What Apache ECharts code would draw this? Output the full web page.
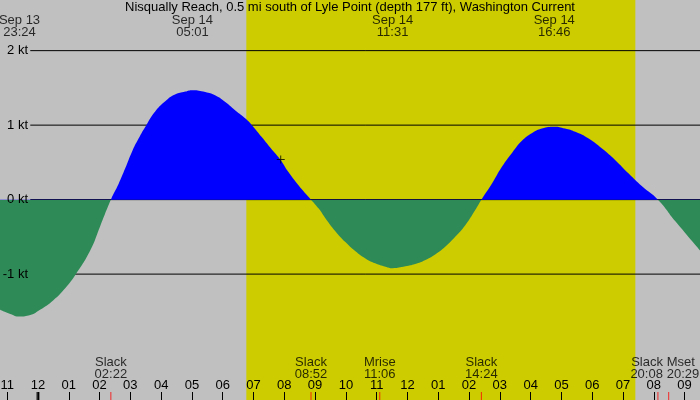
<!DOCTYPE html>
<html>
<head>
<meta charset="utf-8">
<script src="https://cdn.jsdelivr.net/npm/echarts@6/dist/echarts.min.js"></script>
<style>
  html, body { margin: 0; padding: 0; background: #c0c0c0; }
  #chart { width: 700px; height: 400px; }
</style>
</head>
<body>
<div id="chart"></div>
<script>
var titleText = 'Nisqually Reach, 0.5 mi south of Lyle Point (depth 177 ft), Washington Current'

// times are "day hh:mm" in September
var axisStart = '13 22:46'
var axisEnd = '14 21:30'
var lineStart = '13 23:45'
var ktTicks = [2, 1, 0, -1]
var firstHour = '13 23:00'
var hourLabels = ['11', '12', '01', '02', '03', '04', '05', '06', '07', '08', '09', '10',
  '11', '12', '01', '02', '03', '04', '05', '06', '07', '08', '09']
var midnight = '14 00:00'
var sunrise = '14 06:46'
var sunset = '14 19:24'

// current speed (kt, + flood / - ebb)
var curveTimes = [
  '13 22:46', '13 23:06', '13 23:24', '13 23:45', '14 00:04', '14 00:30', '14 00:53', '14 01:14',
  '14 01:42', '14 02:01', '14 02:22', '14 02:37', '14 02:50', '14 03:03', '14 03:16', '14 03:31',
  '14 03:48', '14 04:08', '14 04:27', '14 04:47', '14 05:01', '14 05:26', '14 05:45', '14 06:05',
  '14 06:24', '14 06:46', '14 06:57', '14 07:16', '14 07:36', '14 07:52', '14 08:08', '14 08:28',
  '14 08:52', '14 09:07', '14 09:20', '14 09:39', '14 09:59', '14 10:18', '14 10:38', '14 10:57',
  '14 11:17', '14 11:31', '14 11:56', '14 12:15', '14 12:35', '14 12:54', '14 13:14', '14 13:33',
  '14 13:53', '14 14:12', '14 14:24', '14 14:45', '14 15:04', '14 15:24', '14 15:43', '14 16:03',
  '14 16:22', '14 16:46', '14 17:07', '14 17:27', '14 17:53', '14 18:19', '14 18:45', '14 19:11',
  '14 19:37', '14 20:08', '14 20:42', '14 21:30']
var curveSpeeds = [
  -1.48, -1.535, -1.57, -1.55, -1.48, -1.35, -1.19, -1.00,
  -0.68, -0.36, 0, 0.21, 0.42, 0.64, 0.82, 1.00,
  1.18, 1.32, 1.41, 1.45, 1.47, 1.445, 1.40, 1.31,
  1.20, 1.08, 1.00, 0.84, 0.67, 0.54, 0.37, 0.19,
  0, -0.12, -0.25, -0.42, -0.57, -0.69, -0.79, -0.855,
  -0.90, -0.92, -0.895, -0.865, -0.81, -0.735, -0.63, -0.50,
  -0.34, -0.14, 0, 0.22, 0.44, 0.63, 0.79, 0.895,
  0.955, 0.98, 0.955, 0.91, 0.82, 0.686, 0.53, 0.35,
  0.18, 0, -0.29, -0.68]

var extremaTimes = ['13 23:24', '14 05:01', '14 11:31', '14 16:46']
var eventNames = ['Slack', 'Slack', 'Mrise', 'Slack', 'Slack', 'Mset']
var eventTimes = ['14 02:22', '14 08:52', '14 11:06', '14 14:24', '14 20:08', '14 20:29']
var nowTime = '14 07:53'
var nowSpeed = 0.54

// crowded labels at the right end get pushed apart
var eventLabelShift = { 4: ['right', 5], 5: ['left', -2] }

var yMin = -2.69
var yMax = 2.68
var chartHeight = 400
var floodColor = '#0000ff'
var ebbColor = '#2e8b57'

function toHours(s) {
  var parts = s.split(' ')
  var hm = parts[1].split(':')
  return (Number(parts[0]) - 13) * 24 + Number(hm[0]) + Number(hm[1]) / 60
}

function clock(s) {
  return s.split(' ')[1]
}

var hourValues = hourLabels.map(function (l, i) { return toHours(firstHour) + i })

var curveData = curveTimes.map(function (t, i) { return [toHours(t), curveSpeeds[i]] })

// blue above the zero line, green below it
var zeroAt = yMax / (yMax - yMin)
var fillColor = {
  type: 'linear', x: 0, y: 0, x2: 0, y2: chartHeight, global: true,
  colorStops: [
    { offset: 0, color: floodColor },
    { offset: zeroAt, color: floodColor },
    { offset: zeroAt, color: ebbColor },
    { offset: 1, color: ebbColor }
  ]
}

var gridLineSeries = ktTicks.map(function (v) {
  return {
    type: 'line',
    z: 1.5,
    silent: true,
    symbol: 'none',
    lineStyle: { color: '#000', width: 1 },
    data: [[toHours(lineStart), v], [toHours(axisEnd), v]]
  }
})

var eventData = eventTimes.map(function (t, i) {
  var item = { value: [toHours(t), yMin], name: eventNames[i], time: clock(t) }
  var shift = eventLabelShift[i]
  if (shift) {
    item.label = { align: shift[0], offset: [shift[1], 0] }
  }
  return item
})

var extremaData = extremaTimes.map(function (t) {
  return { value: [toHours(t), yMax], time: clock(t), day: 'Sep ' + t.split(' ')[0] }
})

var chart = echarts.init(document.getElementById('chart'))
chart.setOption({
  animation: false,
  backgroundColor: '#c0c0c0',
  textStyle: { fontFamily: 'Liberation Sans', fontSize: 13, color: '#000' },
  title: {
    text: titleText,
    left: 'center',
    top: 1,
    padding: 0,
    textStyle: { fontFamily: 'Liberation Sans', fontSize: 13, fontWeight: 'normal', color: '#000' }
  },
  grid: { left: 0, right: 0, top: 0, bottom: 0, outerBoundsMode: 'none' },
  xAxis: {
    type: 'value',
    z: 5,
    min: toHours(axisStart),
    max: toHours(axisEnd),
    axisLine: { show: false, onZero: false },
    splitLine: { show: false },
    axisTick: {
      show: true,
      inside: true,
      length: 8,
      customValues: hourValues,
      lineStyle: { color: '#000', width: 1 }
    },
    axisLabel: {
      inside: true,
      margin: 8,
      color: '#000',
      fontSize: 13,
      customValues: hourValues,
      formatter: function (v) {
        return hourLabels[Math.round(v - toHours(firstHour))]
      }
    }
  },
  yAxis: {
    type: 'value',
    z: 5,
    min: yMin,
    max: yMax,
    axisLine: { show: false, onZero: false },
    axisTick: { show: false },
    splitLine: { show: false },
    axisLabel: {
      inside: true,
      align: 'right',
      margin: 28,
      color: '#000',
      fontSize: 13,
      customValues: ktTicks,
      formatter: '{value} kt'
    }
  },
  series: [
    {
      type: 'line',
      z: 2,
      data: curveData,
      smooth: 0.5,
      symbol: 'none',
      silent: true,
      lineStyle: { width: 0 },
      areaStyle: { opacity: 1, color: fillColor },
      markArea: {
        silent: true,
        itemStyle: { color: '#cccc00' },
        data: [[{ xAxis: toHours(sunrise) }, { xAxis: toHours(sunset) }]]
      }
    }
  ].concat(gridLineSeries, [
    {
      type: 'scatter',
      z: 6,
      silent: true,
      symbol: 'rect',
      symbolSize: [1, 8],
      symbolOffset: [0, -4],
      itemStyle: { color: '#ff0000' },
      label: {
        show: true,
        position: 'top',
        distance: 12,
        color: '#000',
        fontSize: 13,
        lineHeight: 12,
        formatter: function (p) { return p.data.name + '\n' + p.data.time }
      },
      data: eventData
    },
    {
      type: 'scatter',
      z: 6,
      silent: true,
      symbol: 'rect',
      symbolSize: [3, 8],
      symbolOffset: [0, -4],
      itemStyle: { color: '#000' },
      data: [[toHours(midnight), yMin]]
    },
    {
      type: 'scatter',
      z: 6,
      silent: true,
      symbolSize: 0,
      label: {
        show: true,
        position: 'bottom',
        distance: 14,
        color: '#000',
        fontSize: 13,
        lineHeight: 12,
        formatter: function (p) { return p.data.day + '\n' + p.data.time }
      },
      data: extremaData
    },
    {
      type: 'scatter',
      z: 6,
      silent: true,
      symbol: 'path://M0,3.5h8v1h-8z M3.5,0h1v8h-1z',
      symbolSize: 8,
      itemStyle: { color: '#000' },
      data: [[toHours(nowTime), nowSpeed]]
    }
  ])
})
</script>
</body>
</html>
